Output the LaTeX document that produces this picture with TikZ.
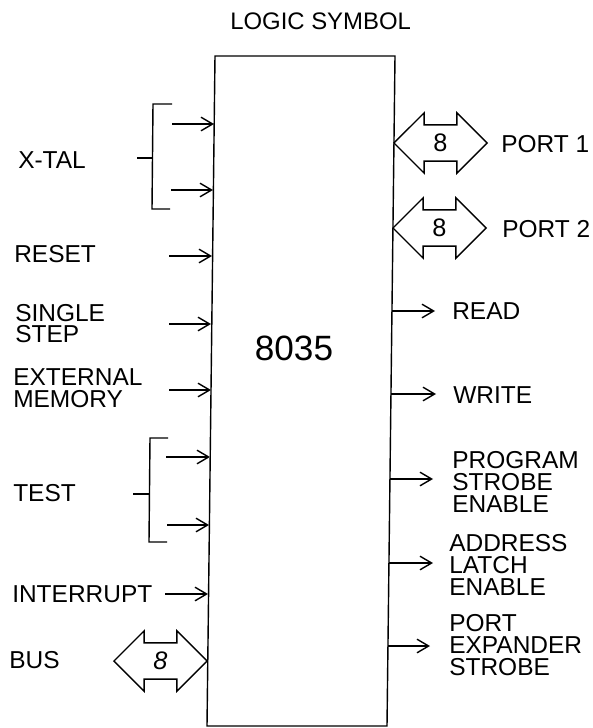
\documentclass[tikz,border=0pt]{standalone}
\usepackage{fontspec}
\setmainfont{Liberation Sans}
\usetikzlibrary{arrows.meta, shapes.arrows}

\tikzset{
    sig/.style={line width=1pt, -{Straight Barb[length=2.9mm,width=3.4mm,line width=1pt]}},
    brace/.style={line width=1pt},
    lbl/.style={anchor=west, inner sep=0pt, align=left, font=\fontsize{17.4}{15.4}\selectfont},
    busarrow/.style={draw, line width=1pt, shape=double arrow, double arrow head extend=0.3cm,
        minimum height=2.325cm, minimum width=1.45cm, inner sep=0.21cm, inner xsep=0pt,
        font=\fontsize{18}{18}\selectfont}
}

\begin{document}
\begin{tikzpicture}[x=0.025cm, y=-0.025cm]
    \useasboundingbox (0,0) rectangle (592,728);

    % Title
    \node[lbl, font=\fontsize{17}{15.4}\selectfont] (title) at (230,21) {LOGIC SYMBOL};

    % Chip body
    \coordinate (tl) at (215,56);
    \coordinate (tr) at (395,56);
    \coordinate (br) at (387,726);
    \coordinate (bl) at (207,726);
    \draw[line width=1pt] (tl) -- (tr) -- (br) -- (bl) -- cycle;
    \node[inner sep=0pt, font=\fontsize{25}{25}\selectfont] (chip) at (294,348) {8035};

    % Inputs
    \foreach \pin/\xa/\xb/\yy in {xa/172/214/124, xb/171/213/190, reset/169/212/256, step/169/211/324,
        mem/169/211/390, ta/166/210/457, tb/167/209/525, irq/165/208/594} {
        \coordinate (\pin from) at (\xa,\yy);
        \coordinate (\pin to) at (\xb,\yy);
        \draw[sig] (\pin from) -- (\pin to);
    }

    % Outputs
    \foreach \pin/\xa/\xb/\yy in {rd/392/435/311, wr/391/436/394, psen/390/433/479, ale/389/433/563, prog/388/430/646} {
        \coordinate (\pin from) at (\xa,\yy);
        \coordinate (\pin to) at (\xb,\yy);
        \draw[sig] (\pin from) -- (\pin to);
    }

    % Brackets
    \coordinate (xtop) at (172,104);
    \coordinate (xbot) at (170,209);
    \coordinate (xmid) at (153,158);
    \coordinate (xend) at (137,158);
    \draw[brace] (xtop) -- (153,104) -- (152,209) -- (xbot);
    \draw[brace] (xend) -- (xmid);
    \coordinate (ttop) at (168,438);
    \coordinate (tbot) at (167,542);
    \coordinate (tmid) at (149,494);
    \coordinate (tend) at (133,494);
    \draw[brace] (ttop) -- (150,438) -- (149,542) -- (tbot);
    \draw[brace] (tend) -- (tmid);

    % Bus arrows
    \node[busarrow] (port1) at (440.5,143) {8};
    \node[busarrow] (port2) at (439.5,228) {8};
    \node[busarrow, font=\fontsize{18}{18}\selectfont\itshape] (bus) at (160.5,661) {8};

    % Left labels
    \node[lbl] (xtal) at (18,160) {X-TAL};
    \node[lbl] (reset) at (14,254) {RESET};
    \node[lbl] (single) at (15,323.5) {SINGLE\\STEP};
    \node[lbl] (extmem) at (13,388) {EXTERNAL\\MEMORY};
    \node[lbl] (test) at (13,493) {TEST};
    \node[lbl] (irq) at (12,594) {INTERRUPT};
    \node[lbl] (buslbl) at (9,660) {BUS};

    % Right labels
    \node[lbl] (p1lbl) at (501,144) {PORT 1};
    \node[lbl] (p2lbl) at (502,229) {PORT 2};
    \node[lbl] (read) at (452,311) {READ};
    \node[lbl] (write) at (453,395) {WRITE};
    \node[lbl] (psen) at (452,482) {PROGRAM\\STROBE\\ENABLE};
    \node[lbl] (ale) at (449,565) {ADDRESS\\LATCH\\ENABLE};
    \node[lbl] (pes) at (449,645) {PORT\\EXPANDER\\STROBE};
\end{tikzpicture}
\end{document}
